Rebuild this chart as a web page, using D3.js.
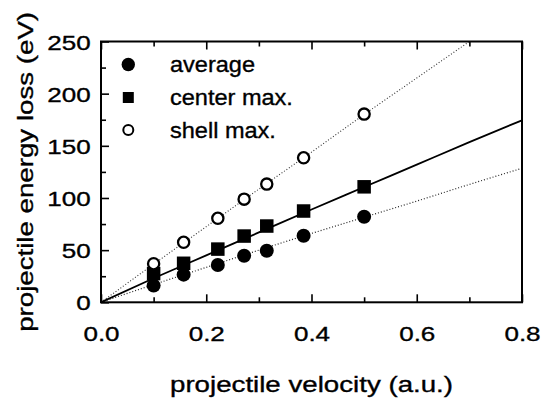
<!DOCTYPE html>
<html>
<head>
<meta charset="utf-8">
<script src="https://cdn.jsdelivr.net/npm/d3@7"></script>
<style>
  html, body { margin: 0; padding: 0; background: #fff; }
  svg { display: block; }
  text { font-family: "Liberation Sans", Arial, Helvetica, sans-serif; fill: #000; stroke: #000; stroke-width: 0.35px; }
</style>
</head>
<body>
<svg id="chart" width="541" height="401"></svg>
<script>
// ---- data ----
const velocity  = [0.1, 0.157, 0.222, 0.272, 0.315, 0.385, 0.5];
const average   = [16, 26.5, 35.7, 44.6, 49.4, 63.8, 82];
const centerMax = [27.5, 37.4, 51, 63.5, 73.1, 87.5, 110.7];
const shellMax  = [37, 57.5, 80.5, 98.9, 113.3, 138.5, 180.4];

const fitV       = [0, 0.1, 0.2, 0.3, 0.4, 0.5, 0.6, 0.7, 0.8];
const fitAverage = [0, 17, 33.5, 50, 66, 81.5, 97, 113, 128.5];
const fitCenter  = [0, 23, 45, 67, 89, 110.5, 132, 153.5, 174.5];
const fitShell   = [0, 36.5, 72.5, 108.5, 144, 180, 215, 250, 285];

const xMajor = [0, 0.2, 0.4, 0.6, 0.8];
const xMinor = [0.1, 0.3, 0.5, 0.7];
const yMajor = [0, 50, 100, 150, 200, 250];
const yMinor = [25, 75, 125, 175, 225];

const legendLabels = ["average", "center max.", "shell max."];
const xTitle = "projectile velocity (a.u.)";
const yTitle = "projectile energy loss (eV)";

// ---- layout ----
const svg = d3.select("#chart");
const L = 101, R = 522, T = 41.5, B = 302.3;
const x = d3.scaleLinear().domain([0, 0.8]).range([L, R]);
const y = d3.scaleLinear().domain([0, 250]).range([B, T]);

const STRETCH = 1.24;

svg.append("defs").append("clipPath").attr("id", "plotclip")
  .append("rect").attr("x", L).attr("y", T).attr("width", R - L).attr("height", B - T);

// ---- fit lines ----
const lineGen = (ys) => d3.line()
  .x((d, i) => x(fitV[i]))
  .y((d) => y(d))
  .curve(d3.curveMonotoneX)(ys);

const lines = svg.append("g").attr("clip-path", "url(#plotclip)");

// ---- markers ----
const marks = svg.append("g");
velocity.forEach((v, i) => {
  marks.append("circle").attr("cx", x(v)).attr("cy", y(average[i])).attr("r", 7).attr("fill", "#000");
});
velocity.forEach((v, i) => {
  const s = 13.5;
  marks.append("rect").attr("x", x(v) - s / 2).attr("y", y(centerMax[i]) - s / 2)
    .attr("width", s).attr("height", s).attr("fill", "#000");
});
velocity.forEach((v, i) => {
  marks.append("circle").attr("cx", x(v)).attr("cy", y(shellMax[i])).attr("r", 5.6)
    .attr("fill", "#fff").attr("stroke", "#000").attr("stroke-width", 2.3);
});

lines.append("path").attr("d", lineGen(fitShell)).attr("fill", "none")
  .attr("stroke", "#333").attr("stroke-width", 1.1).attr("stroke-dasharray", "1,2");
lines.append("path").attr("d", lineGen(fitAverage)).attr("fill", "none")
  .attr("stroke", "#222").attr("stroke-width", 1.2).attr("stroke-dasharray", "1,2");
lines.append("path").attr("d", lineGen(fitCenter)).attr("fill", "none")
  .attr("stroke", "#000").attr("stroke-width", 1.8);

// ---- axes ----
const axisStyle = g => {
  g.select(".domain").remove();
  g.selectAll(".tick line").attr("stroke", "#000").attr("stroke-width", 1.6);
};

// bottom major
const gx = svg.append("g").attr("transform", `translate(0,${B})`)
  .call(d3.axisBottom(x).tickValues(xMajor).tickSize(-8).tickFormat(d3.format(".1f")))
  .call(axisStyle);
gx.selectAll(".tick text")
  .attr("y", 0).attr("dy", 0)
  .attr("transform", `translate(0,38.5) scale(${STRETCH},1)`)
  .attr("font-size", 21).attr("text-anchor", "middle");
// bottom minor
svg.append("g").attr("transform", `translate(0,${B})`)
  .call(d3.axisBottom(x).tickValues(xMinor).tickSize(-5).tickFormat(""))
  .call(axisStyle);
// top major / minor
svg.append("g").attr("transform", `translate(0,${T})`)
  .call(d3.axisTop(x).tickValues(xMajor).tickSize(-8).tickFormat(""))
  .call(axisStyle);
svg.append("g").attr("transform", `translate(0,${T})`)
  .call(d3.axisTop(x).tickValues(xMinor).tickSize(-5).tickFormat(""))
  .call(axisStyle);

// left major
const gy = svg.append("g").attr("transform", `translate(${L},0)`)
  .call(d3.axisLeft(y).tickValues(yMajor).tickSize(-8).tickFormat(d3.format("d")))
  .call(axisStyle);
gy.selectAll(".tick text")
  .attr("x", 0).attr("dy", 0)
  .attr("transform", `translate(-10.3,7.5) scale(${STRETCH},1)`)
  .attr("font-size", 21).attr("text-anchor", "end");
// left minor
svg.append("g").attr("transform", `translate(${L},0)`)
  .call(d3.axisLeft(y).tickValues(yMinor).tickSize(-5).tickFormat(""))
  .call(axisStyle);

// frame
svg.append("rect").attr("x", L).attr("y", T).attr("width", R - L).attr("height", B - T)
  .attr("fill", "none").attr("stroke", "#000").attr("stroke-width", 2);

// ---- titles ----
svg.append("text")
  .attr("transform", `translate(${(L + R) / 2},391.7) scale(1.23,1)`)
  .attr("text-anchor", "middle").attr("font-size", 22.5).text(xTitle);
svg.append("text")
  .attr("transform", `translate(33,${(T + B) / 2}) rotate(-90) scale(1.23,1)`)
  .attr("text-anchor", "middle").attr("font-size", 22.5).text(yTitle);

// ---- legend ----
const legY = [64.5, 97.5, 130];
const lg = svg.append("g");
lg.append("circle").attr("cx", 128.3).attr("cy", legY[0]).attr("r", 6.7).attr("fill", "#000");
lg.append("rect").attr("x", 128.3 - 5.5).attr("y", legY[1] - 5.5).attr("width", 11).attr("height", 11).attr("fill", "#000");
lg.append("circle").attr("cx", 128.3).attr("cy", legY[2]).attr("r", 5)
  .attr("fill", "#fff").attr("stroke", "#000").attr("stroke-width", 2);
legendLabels.forEach((t, i) => {
  lg.append("text")
    .attr("transform", `translate(170,${legY[i] + 7.5}) scale(1.07,1)`)
    .attr("font-size", 22).text(t);
});
</script>
</body>
</html>
